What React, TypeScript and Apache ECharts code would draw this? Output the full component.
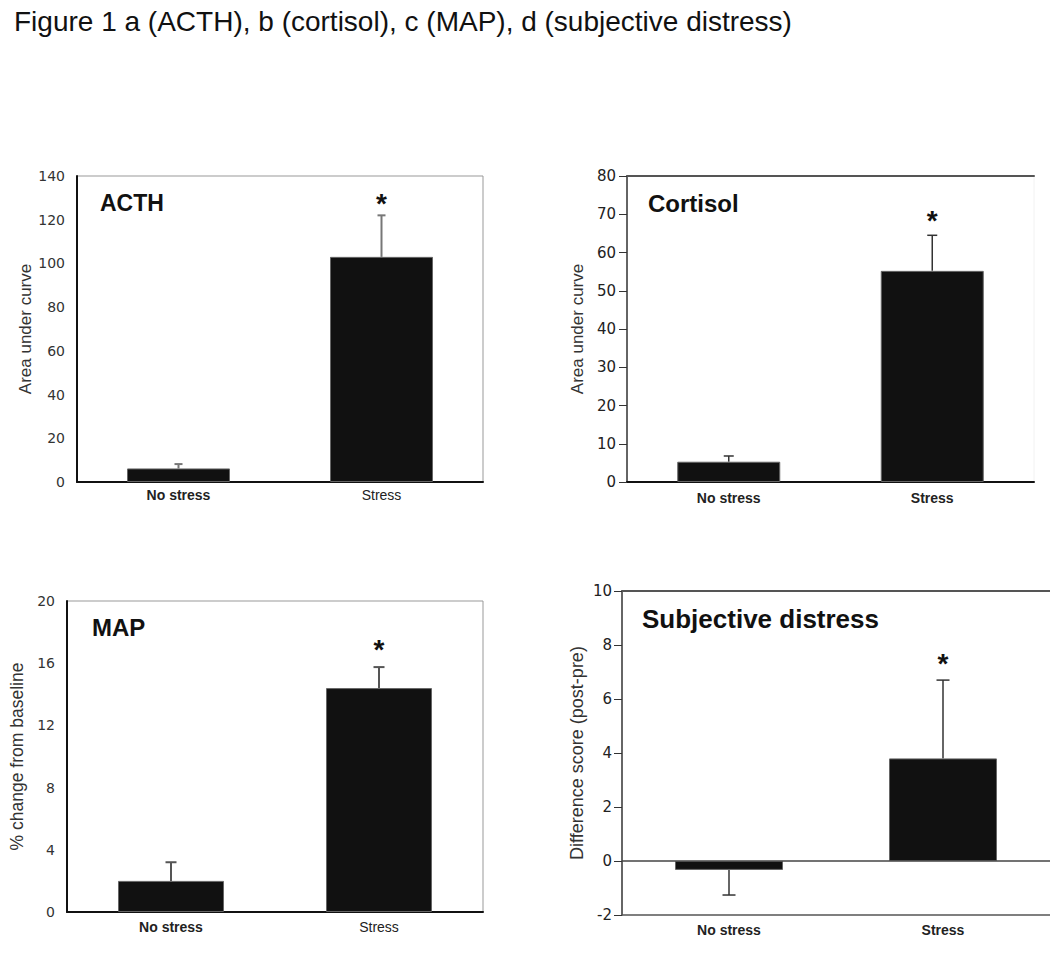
import React, { useEffect, useRef } from "react";
import * as echarts from "echarts";

// ---------------- data ----------------
const categories = ["No stress", "Stress"];

const acthMean = [6.2, 103];
const acthSE = [2.0, 19];
const cortisolMean = [5.3, 55.2];
const cortisolSE = [1.5, 9.3];
const mapMean = [2.0, 14.4];
const mapSE = [1.2, 1.35];
const distressMean = [-0.33, 3.8];
const distressSE = [0.93, 2.9];

// significance flag per category (same for all panels)
const significant = [false, true];

const panelTitles = ["ACTH", "Cortisol", "MAP", "Subjective distress"];
const yAxisNames = [
  "Area under curve",
  "Area under curve",
  "% change from baseline",
  "Difference score (post-pre)",
];
const yMins = [0, 0, 0, -2];
const yMaxs = [140, 80, 20, 10];
const yIntervals = [20, 10, 4, 2];

const figureTitle =
  "Figure 1 a (ACTH), b (cortisol), c (MAP), d (subjective distress)";

const means = [acthMean, cortisolMean, mapMean, distressMean];
const ses = [acthSE, cortisolSE, mapSE, distressSE];

// ---------------- layout / style ----------------
const FONT = "Liberation Sans";
const grids = [
  { left: 77, top: 176, width: 406, height: 306 },
  { left: 627, top: 176, width: 407, height: 306 },
  { left: 67, top: 601, width: 416, height: 311 },
  { left: 622, top: 591, width: 430, height: 324 },
];
const barWidths = [103, 103, 106, 108];
const capHalf = [4, 5, 5.5, 6.5];
const errColors = ["#777", "#333", "#555", "#333"];
const errWidths = [2, 1.5, 2, 1.5];
const tickLabelSizes = [14, 15, 14, 15];
const tickLabelColors = ["#333", "#222", "#333", "#222"];
const tickLabelMargins = [12, 11, 12, 10];
const showTicks = [false, true, false, true];
const nameSizes = [17, 17, 17.5, 18];
const nameGaps = [43.5, 41.5, 41, 36];
const xLabelMargins = [6, 9, 8, 8];
const xLabelBold = [
  [true, false],
  [true, true],
  [true, false],
  [true, true],
];
const starOffsets = [12, 15, 18, 17];
const titleStyles = [
  { x: 100, y: 203, size: 23 },
  { x: 648, y: 203, size: 24 },
  { x: 92, y: 627, size: 24 },
  { x: 642, y: 619, size: 26 },
];

function buildOption() {
  const grid: any[] = grids.map((g, i) => ({
    ...g,
    show: i !== 3,
    borderColor: i === 1 ? "#f2f2f2" : "#999",
    borderWidth: 1,
    backgroundColor: "transparent",
  }));

  const xAxis: any[] = grids.map((_, i) => ({
    type: "category",
    gridIndex: i,
    data: categories,
    axisLine: {
      show: true,
      onZero: false,
      lineStyle: { color: i === 3 ? "#555" : "#111", width: i === 3 ? 1.5 : 2 },
    },
    axisTick: { show: false },
    splitLine: { show: false },
    axisLabel: {
      margin: xLabelMargins[i],
      formatter: (v: string) => {
        const idx = categories.indexOf(v);
        return xLabelBold[i][idx] ? `{b|${v}}` : `{n|${v}}`;
      },
      rich: {
        b: { fontFamily: FONT, fontSize: 14, fontWeight: "bold", color: "#222" },
        n: { fontFamily: FONT, fontSize: 14, fontWeight: "normal", color: "#222" },
      },
    },
  }));
  // top frame lines for panels b and d
  [1, 3].forEach((gi) => {
    xAxis.push({
      type: "category",
      gridIndex: gi,
      position: "top",
      data: categories,
      axisLine: { show: true, onZero: false, lineStyle: { color: "#555", width: 2 } },
      axisTick: { show: false },
      axisLabel: { show: false },
      splitLine: { show: false },
    });
  });

  const yAxis: any[] = grids.map((_, i) => ({
    type: "value",
    gridIndex: i,
    min: yMins[i],
    max: yMaxs[i],
    interval: yIntervals[i],
    axisLine: { show: true, lineStyle: { color: i % 2 === 0 ? "#111" : "#333", width: i % 2 === 0 ? 2 : 1.5 } },
    axisTick: { show: showTicks[i], length: 8, lineStyle: { color: "#333", width: 1 } },
    splitLine: { show: false },
    axisLabel: {
      margin: tickLabelMargins[i],
      fontFamily: "DejaVu Sans",
      fontSize: tickLabelSizes[i],
      color: tickLabelColors[i],
    },
    name: yAxisNames[i],
    nameLocation: "middle",
    nameGap: nameGaps[i],
    nameTextStyle: { fontFamily: FONT, fontSize: nameSizes[i], color: "#333" },
  }));

  const series: any[] = [];
  grids.forEach((_, i) => {
    const m = means[i];
    const s = ses[i];
    const errData = m.map((v, k) => [k, v, v + Math.sign(v) * s[k]]);
    const bar: any = {
      type: "bar",
      xAxisIndex: i,
      yAxisIndex: i,
      data: m,
      barWidth: barWidths[i],
      itemStyle: { color: "#111", borderColor: "#666", borderWidth: 1 },
      silent: true,
    };
    if (yMins[i] < 0) {
      bar.markLine = {
        silent: true,
        symbol: "none",
        label: { show: false },
        lineStyle: { color: "#444", width: 1.5, type: "solid" },
        data: [{ yAxis: 0 }],
      };
    }
    series.push(bar);
    series.push({
      type: "custom",
      xAxisIndex: i,
      yAxisIndex: i,
      data: errData,
      silent: true,
      renderItem: (params: any, api: any) => {
        const idx = api.value(0);
        const p0 = api.coord([idx, api.value(1)]);
        const p1 = api.coord([idx, api.value(2)]);
        const st = { stroke: errColors[i], lineWidth: errWidths[i] };
        return {
          type: "group",
          children: [
            { type: "line", shape: { x1: p0[0], y1: p0[1], x2: p1[0], y2: p1[1] }, style: st },
            {
              type: "line",
              shape: { x1: p1[0] - capHalf[i], y1: p1[1], x2: p1[0] + capHalf[i], y2: p1[1] },
              style: st,
            },
          ],
        };
      },
    });
    series.push({
      type: "custom",
      xAxisIndex: i,
      yAxisIndex: i,
      data: errData.filter((_, k) => significant[k]),
      silent: true,
      renderItem: (params: any, api: any) => {
        const p = api.coord([api.value(0), api.value(2)]);
        return {
          type: "text",
          x: p[0],
          y: p[1] - starOffsets[i],
          style: {
            text: "*",
            fontFamily: FONT,
            fontSize: 28,
            fontWeight: "bold",
            fill: "#111",
            align: "center",
            verticalAlign: "middle",
          },
        };
      },
    });
  });

  const graphic: any[] = [
    {
      type: "text",
      x: 14,
      y: 21,
      style: {
        text: figureTitle,
        fontFamily: FONT,
        fontSize: 28,
        fill: "#111",
        align: "left",
        verticalAlign: "middle",
      },
    },
    ...panelTitles.map((t, i) => ({
      type: "text",
      x: titleStyles[i].x,
      y: titleStyles[i].y,
      style: {
        text: t,
        fontFamily: FONT,
        fontSize: titleStyles[i].size,
        fontWeight: "bold",
        fill: "#111",
        align: "left",
        verticalAlign: "middle",
      },
    })),
  ];

  return {
    animation: false,
    backgroundColor: "#ffffff",
    textStyle: { fontFamily: FONT },
    grid,
    xAxis,
    yAxis,
    series,
    graphic,
  };
}

export default function App() {
  const ref = useRef<HTMLDivElement>(null);
  useEffect(() => {
    document.body.style.margin = "0";
    if (!ref.current) return;
    const chart = echarts.init(ref.current, undefined, { renderer: "svg" });
    chart.setOption(buildOption() as any);
    return () => chart.dispose();
  }, []);
  return <div ref={ref} style={{ width: 1050, height: 969 }} />;
}
